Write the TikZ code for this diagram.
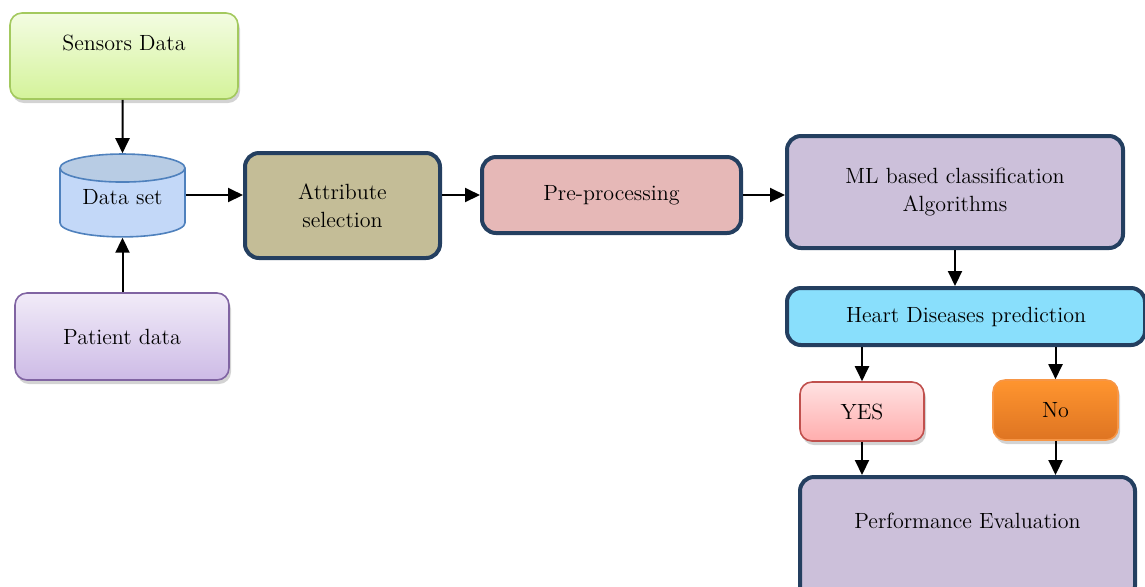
\documentclass[tikz,border=0pt]{standalone}
\usepackage{tikz}
\usetikzlibrary{positioning, calc, arrows.meta, shapes.geometric, shadows}

\definecolor{navyline}{HTML}{243F60}
\definecolor{sensortop}{HTML}{F3FCE2}
\definecolor{sensorbot}{HTML}{D4F39A}
\definecolor{sensorline}{HTML}{A3C95E}
\definecolor{patienttop}{HTML}{F1EBF8}
\definecolor{patientbot}{HTML}{CDBBE6}
\definecolor{patientline}{HTML}{8064A2}
\definecolor{setbody}{HTML}{C3D8F8}
\definecolor{setend}{HTML}{B8CCE4}
\definecolor{setline}{HTML}{4F81BD}
\definecolor{attrfill}{HTML}{C4BD97}
\definecolor{prefill}{HTML}{E6B8B7}
\definecolor{mlfill}{HTML}{CCC0DA}
\definecolor{heartfill}{HTML}{89DFFC}
\definecolor{yestop}{HTML}{FFE2E2}
\definecolor{yesbot}{HTML}{FFADAD}
\definecolor{yesline}{HTML}{C0504D}
\definecolor{notop}{HTML}{FF952F}
\definecolor{nobot}{HTML}{DE7422}
\definecolor{noline}{HTML}{F79646}

\begin{document}
\begin{tikzpicture}[
    x=0.5pt, y=-0.5pt,
    font=\fontsize{11}{14}\selectfont,
    softbox/.style={rectangle, rounded corners=6pt, line width=0.8pt, align=center,
        drop shadow={shadow xshift=1pt, shadow yshift=-2pt, opacity=0.35}},
    stage/.style={rectangle, rounded corners=7pt, draw=navyline, line width=2pt, align=center},
    arrow/.style={-{Triangle[length=7.5pt, width=7pt]}, line width=1pt}
]
    \useasboundingbox (0,0) rectangle (1145,586);

    % Data sources
    \node[softbox, draw=sensorline, top color=sensortop, bottom color=sensorbot,
          minimum width=114pt, minimum height=43pt, text depth=13.5pt] (sensors) at (124,56) {Sensors Data};
    \node[cylinder, shape border rotate=90, aspect=0.3, draw=setline, line width=0.8pt,
          cylinder uses custom fill, cylinder body fill=setbody, cylinder end fill=setend,
          minimum width=62.5pt, minimum height=38.5pt, text depth=9pt] (dataset) at (122.5,206) {Data set};
    \node[softbox, draw=patientline, top color=patienttop, bottom color=patientbot,
          minimum width=107pt, minimum height=43.5pt] (patient) at (122,336.5) {Patient data};

    % Pipeline
    \node[stage, fill=attrfill, minimum width=97.5pt, minimum height=52.5pt] (attr) at (342.5,205.5) {Attribute\\selection};
    \node[stage, fill=prefill, minimum width=129.5pt, minimum height=38pt] (pre) at (611.5,195) {Pre-processing};
    \node[stage, fill=mlfill, minimum width=168pt, minimum height=56pt] (ml) at (955,192) {ML based classification\\Algorithms};
    \node[stage, fill=heartfill, minimum width=179pt, minimum height=28.5pt] (heart) at (966,316.5) {Heart Diseases prediction};

    % Outcomes
    \node[softbox, draw=yesline, top color=yestop, bottom color=yesbot,
          minimum width=62pt, minimum height=29.5pt] (yes) at (862,411.5) {YES};
    \node[softbox, draw=noline, top color=notop, bottom color=nobot,
          minimum width=62.5pt, minimum height=30pt] (no) at (1055.5,410) {No};
    \node[stage, fill=mlfill, minimum width=167.5pt, minimum height=61.5pt, text depth=17.5pt] (perf) at (967.5,538.5) {Performance Evaluation};

    % Connections
    \draw[arrow] (sensors.south -| dataset) -- (dataset.north);
    \draw[arrow] (patient.north -| dataset) -- (dataset.south);
    \draw[arrow] (dataset.east |- pre) -- (dataset.east |- pre -| attr.west);
    \draw[arrow] (attr.east |- pre) -- (pre.west);
    \draw[arrow] (pre.east) -- (pre.east -| ml.west);
    \draw[arrow] (ml.south) -- (ml |- heart.north);
    \draw[arrow] (heart.south -| yes) -- (yes.north);
    \draw[arrow] (heart.south -| no) -- (no.north);
    \draw[arrow] (yes.south) -- (yes |- perf.north);
    \draw[arrow] (no.south) -- (no |- perf.north);

\end{tikzpicture}
\end{document}
